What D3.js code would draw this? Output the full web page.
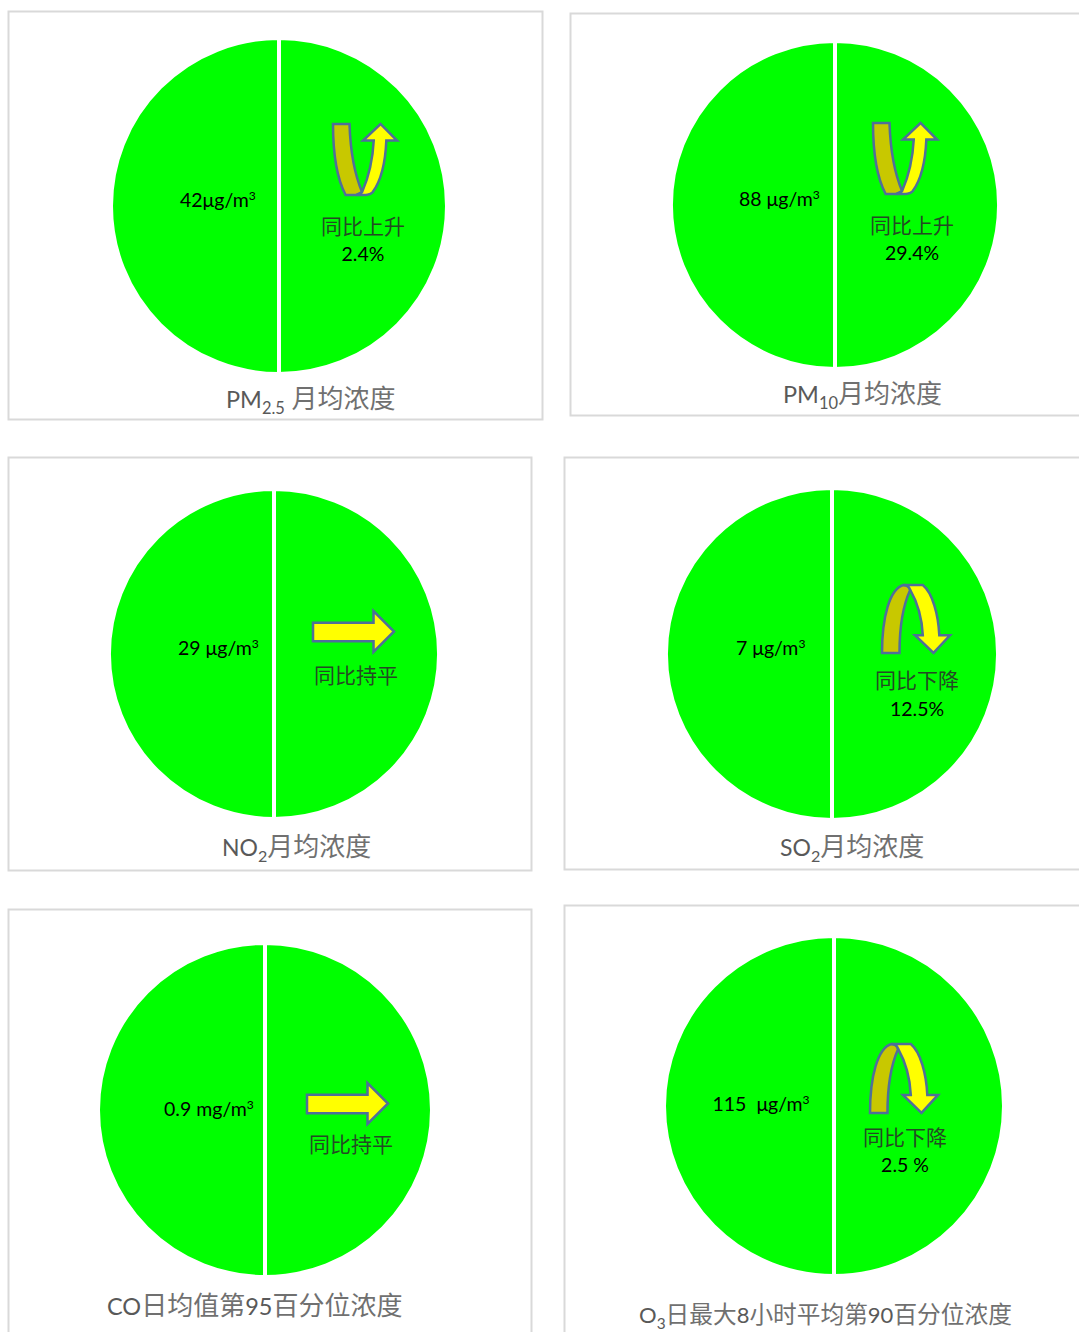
<!DOCTYPE html>
<html><head><meta charset="utf-8">
<script src="https://cdn.jsdelivr.net/npm/d3@7/dist/d3.min.js"></script>
<style>
html,body{margin:0;padding:0;background:#fff;overflow:hidden}
svg{display:block}
text{font-family:Lato,"Noto Sans CJK SC",sans-serif;white-space:pre}
</style></head><body>
<svg id="c" width="1079" height="1332"></svg>
<script>
// data
const pollutants = ["PM2.5","PM10","NO2","SO2","CO","O3"];
const sliceValues = [50,50];
const concentrationLabels = [
  [["42μg/m"],["3","sup"]],
  [["88 μg/m"],["3","sup"]],
  [["29 μg/m"],["3","sup"]],
  [["7 μg/m"],["3","sup"]],
  [["0.9 mg/m"],["3","sup"]],
  [["115  μg/m"],["3","sup"]]
];
const trendWords = ["同比上升","同比上升","同比持平","同比下降","同比持平","同比下降"];
const trendPercents = ["2.4%","29.4%","","12.5%","","2.5 %"];
const trendKinds = ["up","up","flat","down","flat","down"];
const titles = [
  [["PM"],["2.5","sub"],[" 月均浓度","cjk"]],
  [["PM"],["10","sub"],["月均浓度","cjk"]],
  [["NO"],["2","sub"],["月均浓度","cjk"]],
  [["SO"],["2","sub"],["月均浓度","cjk"]],
  [["CO"],["日均值第","cjk"],["95"],["百分位浓度","cjk"]],
  [["O"],["3","sub"],["日最大","cjk"],["8"],["小时平均第","cjk"],["90"],["百分位浓度","cjk"]]
];

// layout (separate from the data)
const frames = [[8.5,11.5,534,408],[570.5,13.5,540,402],[8.5,457.5,523,413],[564.5,457.5,546,412],[8.5,909.5,523,460],[564.5,905.5,546,460]];
const centers = [[279,206,168],[835,205,164],[274,654,165],[832,654,166],[265,1110,167],[834,1106,170]];
const valuePos = [[180,207],[739,206],[178,655],[736,655],[164,1116],[712.5,1111]];
const arrowBox = [[333,123,64,72],[873,122,64,72],[313,611,81,41],[882,585,68,68],[307,1083,81,41],[870,1044,68,69]];
const wordPos = [[363,234],[912,233],[356,683],[917,688],[351,1152],[905,1145]];
const pctPos = [[363,261],[912,260],null,[917,716],null,[905,1172]];
const titlePos = [[226,408],[783,403],[222,856],[780,856],[107,1315],[639,1323]];
const titleSize = [[23.5,26],[23.5,26],[23,26],[23,26],[23.5,26],[22,23.7]];

const arrowPaths = {
  up: [
    {fill:"#c8c800", d:"M0,1 L17,1 C18,30 22,52 30,71 L24,74 L13,74 C3,55 0,30 0,1 Z"},
    {fill:"#ffff00", d:"M30,71 C37,55 41,38 42,18 L31,18 L49,1 L66,18 L55,18 C54,42 49,60 41,71 C38,74 35,74 24,74 C27,74 28,73 30,71 Z"}
  ],
  down: [
    {fill:"#c8c800", d:"M0,69 L18,69 C18,40 22,20 29,5 C28,2 26,0 22,0 C8,4 0,32 0,69 Z"},
    {fill:"#ffff00", d:"M29,5 C36,17 41,32 42,51 L34,51 L53,69 L70,51 L59,51 C58,30 52,8 42,0 L22,0 C26,0 28,2 29,5 Z"}
  ],
  flat: [
    {fill:"#ffff00", d:"M0,12 L62,12 L62,0 L83,21 L62,42 L62,31 L0,31 Z"}
  ]
};

const svg = d3.select("#c");
const pie = d3.pie().sort(null).value(d => d);
const arc = d3.arc().innerRadius(0);

function richText(parent, segs, x, y, size, cjkSize, fill, cjkFill) {
  const t = parent.append("text").attr("x", x).attr("y", y).attr("fill", fill).attr("font-size", size);
  let prev = null;
  segs.forEach(s => {
    const kind = s[1];
    const ts = t.append("tspan").text(s[0]);
    if (kind === "sub") { ts.attr("font-size", size*0.7).attr("dy", size*0.25); }
    else if (kind === "sup") { ts.attr("font-size", size*0.62).attr("dy", -size*0.38); }
    else if (kind === "cjk") { ts.attr("font-size", cjkSize).attr("fill", cjkFill); }
    if (prev === "sub") ts.attr("dy", -size*0.25);
    prev = kind;
  });
  return t;
}

pollutants.forEach((name,i) => {
  const g = svg.append("g").attr("class","panel").attr("data-name",name);
  const f = frames[i];
  g.append("rect").attr("x",f[0]).attr("y",f[1]).attr("width",f[2]).attr("height",f[3])
    .attr("fill","#fff").attr("stroke","#d9d9d9").attr("stroke-width",2);
  const [cx,cy,r] = centers[i];
  g.append("g").attr("transform",`translate(${cx},${cy})`)
    .selectAll("path").data(pie(sliceValues)).join("path")
    .attr("d",d => arc.outerRadius(r)(d))
    .attr("fill","#00ff00").attr("stroke","#fff").attr("stroke-width",4);

  richText(g, concentrationLabels[i], valuePos[i][0], valuePos[i][1], 19.5, 19.5, "#000", "#000");

  const kind = trendKinds[i], b = arrowBox[i];
  const base = {up:[66,74],down:[70,69],flat:[83,42]}[kind];
  const ag = g.append("g").attr("transform",`translate(${b[0]},${b[1]}) scale(${b[2]/base[0]},${b[3]/base[1]})`);
  ag.selectAll("path").data(arrowPaths[kind]).join("path")
    .attr("d",d=>d.d).attr("fill",d=>d.fill)
    .attr("stroke","#4f6f9a").attr("stroke-width",2.6).attr("stroke-linejoin","miter");

  g.append("text").attr("x",wordPos[i][0]).attr("y",wordPos[i][1]).attr("text-anchor","middle")
    .attr("font-size",21).attr("fill","#244a24").text(trendWords[i]);
  if (trendPercents[i]) {
    g.append("text").attr("x",pctPos[i][0]).attr("y",pctPos[i][1]).attr("text-anchor","middle")
      .attr("font-size",19.5).attr("fill","#000").text(trendPercents[i]);
  }
  richText(g, titles[i], titlePos[i][0], titlePos[i][1], titleSize[i][0], titleSize[i][1], "#595959", "#707070");
});
</script>
</body></html>
